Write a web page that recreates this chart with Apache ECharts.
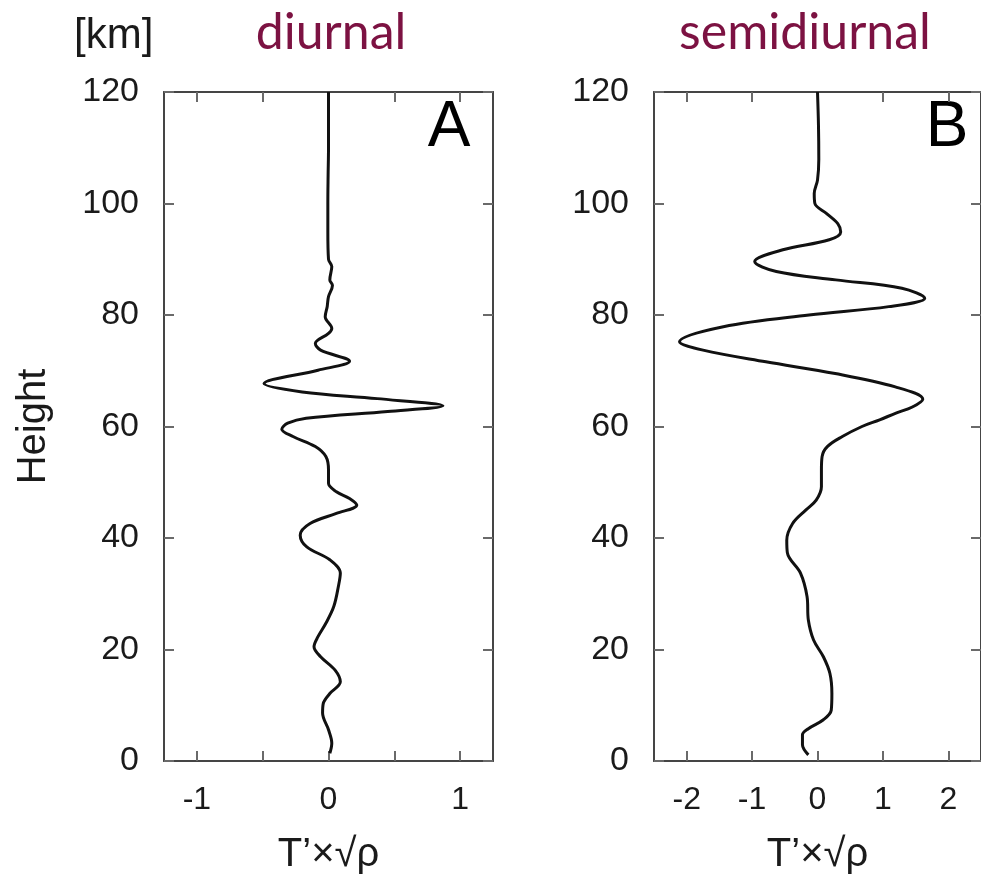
<!DOCTYPE html>
<html>
<head>
<meta charset="utf-8">
<title>Tidal temperature profiles</title>
<script src="https://cdn.jsdelivr.net/npm/echarts@6/dist/echarts.min.js"></script>
<style>
  html, body { margin: 0; padding: 0; background: #ffffff; }
  #chart { width: 981px; height: 887px; }
</style>
</head>
<body>
<div id="chart"></div>
<script>
// Diurnal tide profile: height [km] and scaled temperature perturbation
const heightA = [1.4, 3.2, 5.6, 8.6, 10.3, 12.1, 14.2, 16.3, 18.7, 20.5, 22.3, 24.7, 27.7, 31.3, 33.7,
  36.1, 38.4, 40.5, 42.6, 44.4, 45.9, 47.1, 48.3, 49.8, 52.2, 54.6, 56.4, 58.2, 59.5, 60.6,
  61.5, 62.7, 63.7, 65.0, 66.2, 67.7, 70.1, 71.7, 73.7, 74.9, 76.7, 77.6, 79.7, 81.5, 83.3,
  85.3, 86.3, 88.7, 90, 95, 100, 105, 110, 115, 120];
const valueA = [0.01, 0.025, 0.0, -0.045, -0.04, 0.01, 0.09, 0.05, -0.06, -0.11, -0.08, -0.02, 0.04, 0.075, 0.09,
  0.01, -0.165, -0.215, -0.14, 0.06, 0.215, 0.16, 0.06, 0.0, 0.0, -0.02, -0.10, -0.27, -0.355, -0.31,
  -0.17, 0.45, 0.87, 0.37, -0.2, -0.49, -0.08, 0.16, -0.06, -0.10, 0.0, 0.025, -0.025, -0.01, 0.0,
  0.03, 0.01, 0.025, 0.0, -0.005, -0.005, -0.003, 0.0, 0.0, 0.0];

// Semidiurnal tide profile
const heightB = [1.1, 2.9, 4.7, 5.8, 7.4, 9.1, 12.1, 15.7, 18.7, 21.7, 25.3, 29.5, 33.7, 37.3, 39.6,
  42.6, 45.0, 46.8, 49.2, 52.2, 54.6, 56.4, 58.2, 60.0, 61.2, 62.4, 63.5, 64.9, 67.1, 69.5, 71.6,
  73.7, 75.2, 77.9, 80.0, 81.5, 83.0, 84.8, 86.3, 87.8, 89.6, 91.7, 93.5, 94.9, 96.4, 98.2,
  100.0, 101.8, 104.2, 108, 114, 120];
const valueB = [-0.14, -0.23, -0.23, -0.14, 0.09, 0.21, 0.22, 0.19, 0.09, -0.06, -0.14, -0.16, -0.26, -0.46, -0.47,
  -0.38, -0.18, -0.02, 0.06, 0.06, 0.07, 0.15, 0.38, 0.68, 0.95, 1.2, 1.45, 1.61, 1.19, 0.27, -0.79,
  -1.75, -2.11, -1.44, -0.13, 1.09, 1.64, 1.29, 0.28, -0.63, -0.96, -0.53, 0.18, 0.355, 0.31, 0.14,
  -0.04, -0.05, 0.0, 0.02, 0.015, 0.0];

// Axis ticks and labels
const heightTicks = [0, 20, 40, 60, 80, 100, 120];
const ticksA = [-1, -0.5, 0, 0.5, 1];
const labelsA = [-1, 0, 1];
const ticksB = [-2, -1, 0, 1, 2];
const labelsB = [-2, -1, 0, 1, 2];

const titleA = 'diurnal';
const titleB = 'semidiurnal';
const panelA = 'A';
const panelB = 'B';
const xName = 'T\u2019\u00d7\u221a\u03c1';
const yName = 'Height';
const yUnit = '[km]';

const FONT = '"Liberation Sans", Arial, Helvetica, sans-serif';
const TITLE_FONT = 'Lato, "Open Sans", sans-serif';
const FRAME = '#454545';
const TICK = '#6a6a6a';
const TEXT = '#1a1a1a';
const PURPLE = '#7c1242';

const pairs = (xs, ys) => ys.map((y, i) => [xs[i], y]);

function xAxisPair(gridIndex, min, max, ticks, labels, withName) {
  const base = {
    type: 'value', gridIndex, min, max,
    splitLine: { show: false },
    axisLine: { show: true, onZero: false, lineStyle: { color: FRAME, width: 2 } },
    axisTick: { show: true, inside: true, length: 10, customValues: ticks, lineStyle: { color: TICK, width: 2 } }
  };
  return [
    Object.assign({}, base, {
      position: 'bottom',
      axisLabel: { show: true, customValues: labels, margin: 23, fontFamily: FONT, fontSize: 32, color: TEXT },
      name: withName ? xName : '',
      nameLocation: 'middle', nameGap: 74,
      nameTextStyle: { fontFamily: FONT, fontSize: 40, color: TEXT }
    }),
    Object.assign({}, base, { position: 'top', axisLabel: { show: false } })
  ];
}

function yAxisPair(gridIndex, withName) {
  const base = {
    type: 'value', gridIndex, min: 0, max: 120, interval: 20,
    splitLine: { show: false },
    axisLine: { show: true, onZero: false, lineStyle: { color: FRAME, width: 2 } },
    axisTick: { show: true, inside: true, length: 10, customValues: heightTicks, lineStyle: { color: TICK, width: 2 } }
  };
  return [
    Object.assign({}, base, {
      position: 'left',
      axisLabel: { show: true, customValues: heightTicks, margin: 25, fontFamily: FONT, fontSize: 34, color: TEXT },
      name: withName ? yName : '',
      nameLocation: 'middle', nameGap: 110, nameRotate: 90,
      nameTextStyle: { fontFamily: FONT, fontSize: 40, color: TEXT }
    }),
    Object.assign({}, base, { position: 'right', axisLabel: { show: false } })
  ];
}

const chart = echarts.init(document.getElementById('chart'), null, { renderer: 'canvas' });

const option = {
  backgroundColor: '#ffffff',
  animation: false,
  grid: [
    { left: 164, top: 92, width: 329, height: 669 },
    { left: 654, top: 92, width: 329, height: 669 }
  ],
  xAxis: [
    ...xAxisPair(0, -1.25, 1.25, ticksA, labelsA, true),
    ...xAxisPair(1, -2.5, 2.5, ticksB, labelsB, true)
  ],
  yAxis: [
    ...yAxisPair(0, true),
    ...yAxisPair(1, false)
  ],
  series: [
    {
      type: 'line', xAxisIndex: 0, yAxisIndex: 0,
      data: pairs(valueA, heightA),
      smooth: 0.35, showSymbol: false, symbol: 'none',
      lineStyle: { color: '#111111', width: 3 }
    },
    {
      type: 'line', xAxisIndex: 2, yAxisIndex: 2,
      data: pairs(valueB, heightB),
      smooth: 0.35, showSymbol: false, symbol: 'none',
      lineStyle: { color: '#111111', width: 3 }
    }
  ],
  graphic: [
    { type: 'text', left: 74, top: 15, style: { text: yUnit, font: '42px ' + FONT, fill: TEXT } },
    { type: 'text', x: 331, y: 33, style: { text: titleA, font: '50px ' + TITLE_FONT, fill: PURPLE, textAlign: 'center', textVerticalAlign: 'middle' } },
    { type: 'text', x: 805, y: 33, style: { text: titleB, font: '50px ' + TITLE_FONT, fill: PURPLE, textAlign: 'center', textVerticalAlign: 'middle' } },
    { type: 'text', x: 449, y: 128, style: { text: panelA, font: '64px ' + FONT, fill: '#000000', textAlign: 'center', textVerticalAlign: 'middle' } },
    { type: 'text', x: 947, y: 128, style: { text: panelB, font: '64px ' + FONT, fill: '#000000', textAlign: 'center', textVerticalAlign: 'middle' } }
  ]
};

chart.setOption(option);
</script>
</body>
</html>
